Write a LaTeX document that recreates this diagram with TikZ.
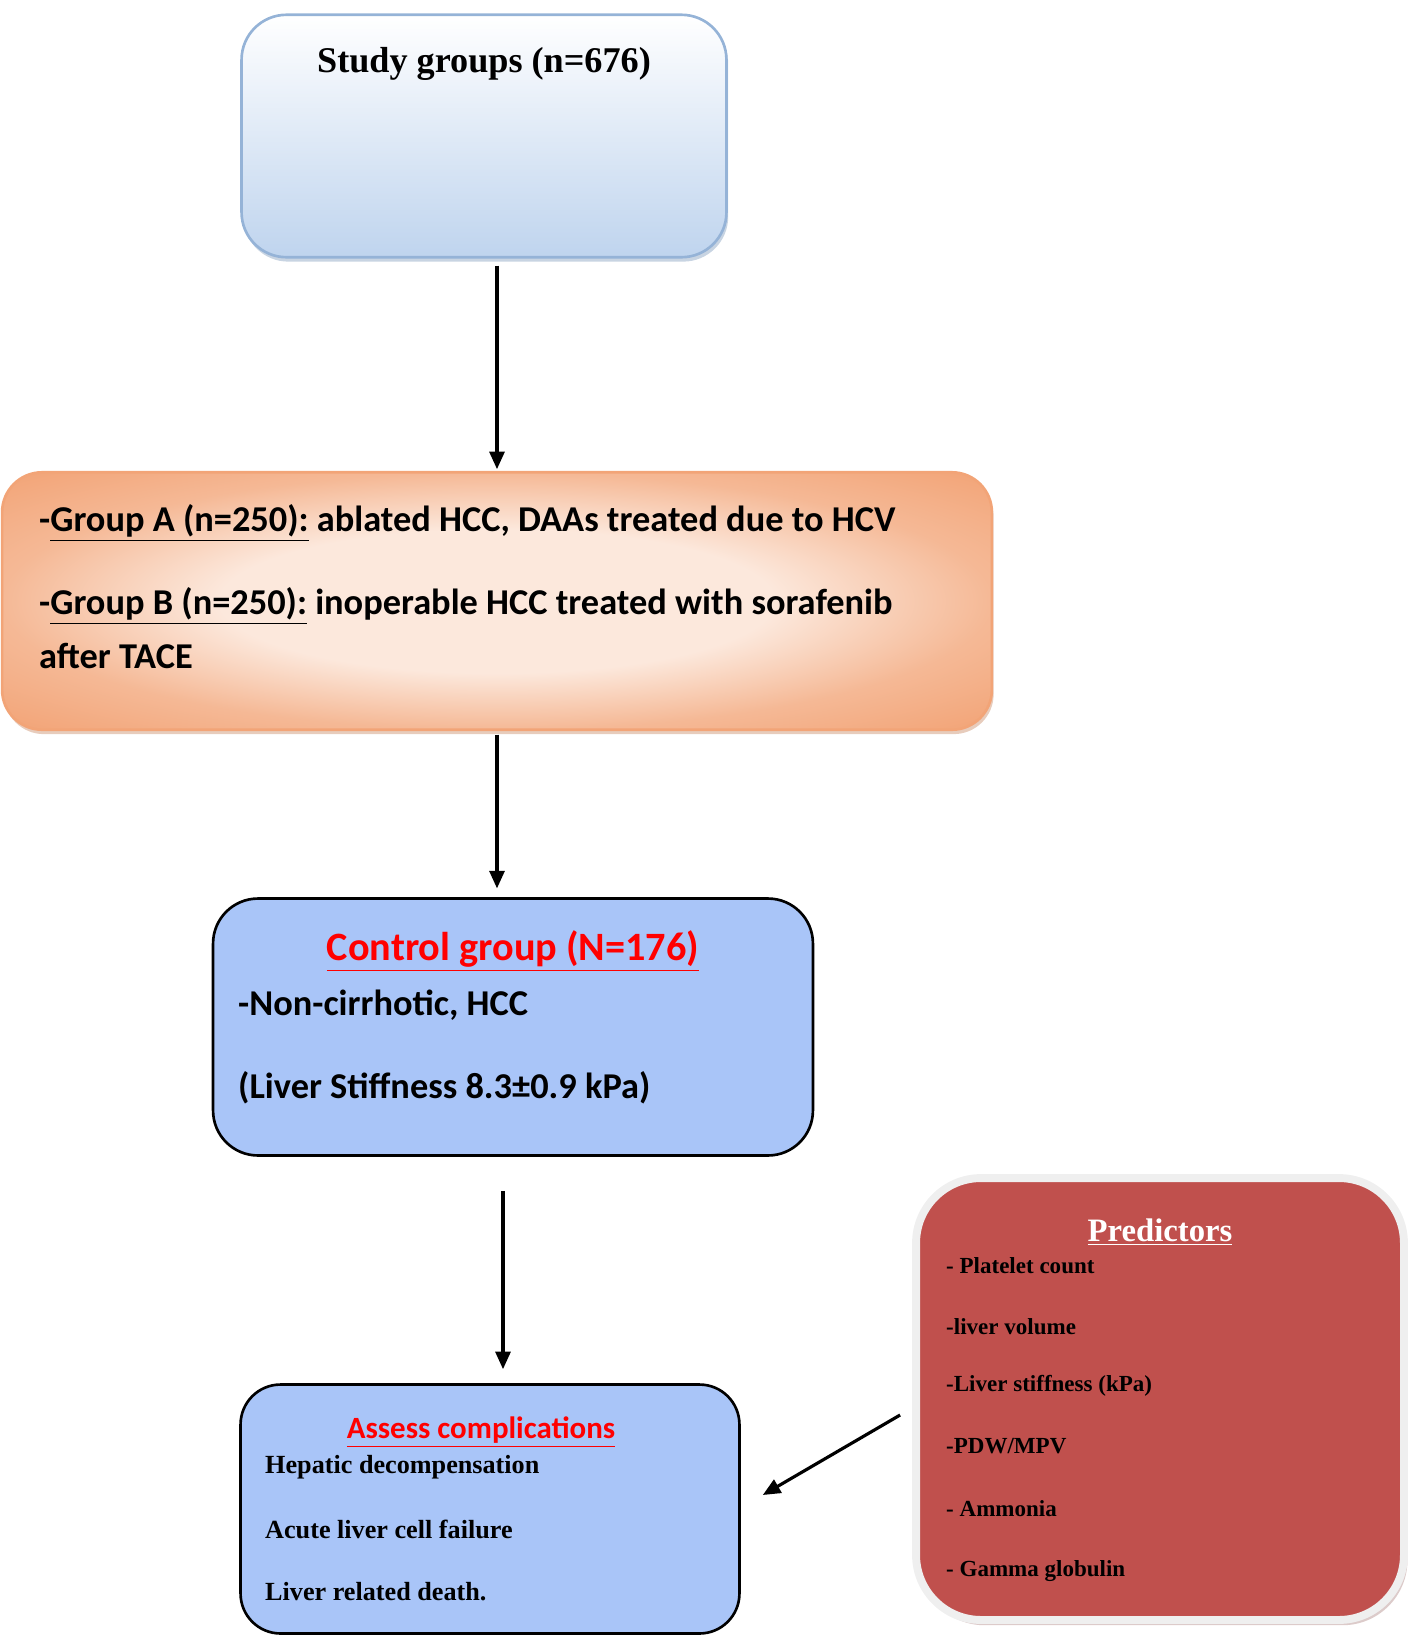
\documentclass[tikz,border=0pt]{standalone}
\usepackage{fontspec}
\setmainfont{Liberation Serif}
\newfontfamily\calibri{Carlito}
\usetikzlibrary{arrows.meta,shadows}

\definecolor{studyblue}{HTML}{BFD4EE}
\definecolor{studyedge}{HTML}{95B3D7}
\definecolor{grouporange}{HTML}{F2A477}
\definecolor{grouplight}{HTML}{FCE8DC}
\definecolor{ctrlblue}{HTML}{A9C5F8}
\definecolor{predred}{HTML}{C0504D}
\definecolor{predframe}{HTML}{EFEFEF}

% soft orange fill of the groups box
\pgfdeclareradialshading{groupshade}{\pgfpoint{0bp}{0bp}}{%
  color(0bp)=(grouplight); color(14bp)=(grouplight);
  color(25bp)=(grouporange!70!grouplight); color(35bp)=(grouporange);
  color(50bp)=(grouporange)}

\tikzset{
  flowbox/.style={rounded corners=0.9cm, line width=1.5pt, draw=black, fill=ctrlblue},
  arrow/.style={line width=1.8pt, -{Triangle[length=10pt, width=8.5pt]}},
  calbold/.style={font=\calibri\bfseries\fontsize{#1}{#1}\selectfont},
  timesbold/.style={font=\bfseries\fontsize{#1}{#1}\selectfont},
}

\begin{document}
\begin{tikzpicture}[x=0.02cm, y=-0.02cm]
  \useasboundingbox (0,0) rectangle (1425,1637);

  % boxes
  \node (study) at (484,136) [rounded corners=0.9cm, line width=1.5pt, draw=studyedge,
      top color=white, bottom color=studyblue,
      drop shadow={shadow xshift=1pt, shadow yshift=-2.5pt, fill=studyedge!80!gray},
      minimum width=9.7cm, minimum height=4.85cm] {};
  \node (groups) at (497,601) [rounded corners=0.8cm, line width=1.5pt, draw=grouporange,
      shading=groupshade,
      drop shadow={shadow xshift=1pt, shadow yshift=-2.5pt, fill=grouporange!70!gray},
      minimum width=19.8cm, minimum height=5.15cm] {};
  \node (control) at (513,1027) [flowbox, minimum width=12cm, minimum height=5.14cm] {};
  \node (assess) at (490,1509) [flowbox, rounded corners=0.8cm,
      minimum width=9.98cm, minimum height=4.98cm] {};
  \node (pred) at (1160,1399) [rounded corners=1.3cm, fill=predred, draw=predframe,
      line width=4.5pt,
      drop shadow={shadow xshift=2pt, shadow yshift=-3pt, fill=predred!45!gray!70},
      minimum width=9.76cm, minimum height=8.84cm] {};

  % texts
  \node (studytxt) at (484,64) [timesbold=20.6] {Study groups (n=676)};

  \node (grpa) at (33,523) [anchor=west, calbold=20.7]
      {-\underline{Group A (n=250):} ablated HCC, DAAs treated due to HCV};
  \node (grpb) at (33,606) [anchor=west, calbold=20.7]
      {-\underline{Group B (n=250):} inoperable HCC treated with sorafenib};
  \node (grpc) at (33,656) [anchor=west, calbold=20.7] {after TACE};

  \node (ctrltitle) at (513,951) [calbold=22.9, text=red] {\underline{Control group (N=176)}};
  \node (ctrl1) at (232,1005) [anchor=west, calbold=20.7] {-Non-cirrhotic, HCC};
  \node (ctrl2) at (232,1088) [anchor=west, calbold=20.7] {(Liver Stiffness 8.3\textpm0.9 kPa)};

  \node (asstitle) at (481,1432) [calbold=17.6, text=red] {\underline{Assess complications}};
  \node (ass1) at (259,1467) [anchor=west, timesbold=14.9] {Hepatic decompensation};
  \node (ass2) at (259,1529) [anchor=west, timesbold=14.9] {Acute liver cell failure};
  \node (ass3) at (259,1592) [anchor=west, timesbold=14.9] {Liver related death.};

  \node (predtitle) at (1160,1232) [timesbold=18.6, text=white] {\underline{Predictors}};
  \node (pred1) at (940,1266) [anchor=west, timesbold=13.1] {- Platelet count};
  \node (pred2) at (940,1327) [anchor=west, timesbold=13.1] {-liver volume};
  \node (pred3) at (940,1386) [anchor=west, timesbold=13.1] {-Liver stiffness (kPa)};
  \node (pred4) at (940,1446) [anchor=west, timesbold=13.1] {-PDW/MPV};
  \node (pred5) at (940,1509) [anchor=west, timesbold=13.1] {- Ammonia};
  \node (pred6) at (940,1571) [anchor=west, timesbold=13.1] {- Gamma globulin};

  % arrows
  \draw[arrow, shorten <=4pt, shorten >=1pt] (study.south -| 497,0) -- (groups.north -| 497,0);
  \draw[arrow, shorten <=2pt, shorten >=5pt] (groups.south -| 497,0) -- (control.north -| 497,0);
  \draw[arrow, shorten <=0.68cm, shorten >=0.28cm] (control.south -| 503,0) -- (assess.north -| 503,0);
  \draw[arrow] ([shift={(-12,16)}]pred.west) -- ([shift={(22,-14)}]assess.east);
\end{tikzpicture}
\end{document}
